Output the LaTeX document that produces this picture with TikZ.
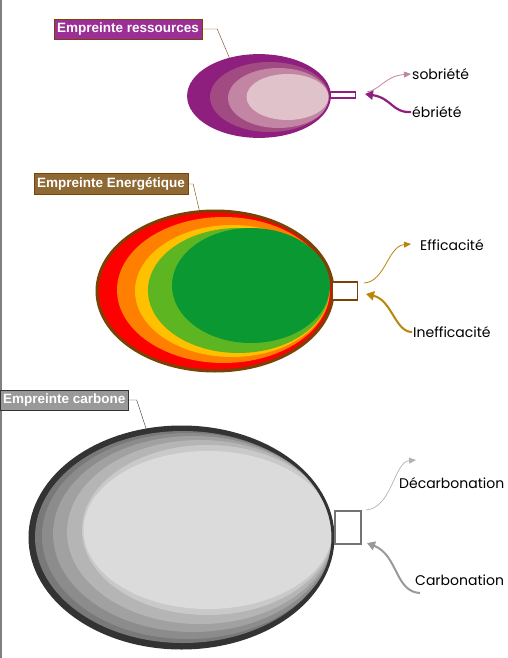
\documentclass[tikz,border=0pt]{standalone}
\usepackage{fontspec}
\setmainfont{Liberation Sans}
\newfontfamily\handfont{Poppins}
\usetikzlibrary{positioning,shapes,arrows.meta}
\definecolor{ressDark}{HTML}{8E1F7E}
\definecolor{ressMid}{HTML}{A24A82}
\definecolor{ressLight}{HTML}{C285A4}
\definecolor{ressPale}{HTML}{E0C2CB}
\definecolor{ressBox}{HTML}{9B2F96}
\definecolor{enerBrown}{HTML}{7A4204}
\definecolor{enerBox}{HTML}{8F6934}
\definecolor{enerRed}{HTML}{FF0000}
\definecolor{enerOrange}{HTML}{FF7F00}
\definecolor{enerYellow}{HTML}{FFC000}
\definecolor{enerLime}{HTML}{5DB522}
\definecolor{enerGreen}{HTML}{0A9832}
\definecolor{enerGold}{HTML}{B8860B}
\definecolor{carbDark}{HTML}{333333}
\definecolor{carbBox}{HTML}{999999}
\tikzset{
  tag/.style={draw=enerBrown, text=white, font=\bfseries\fontsize{13.5}{15}\selectfont,
    inner xsep=3pt, inner ysep=4pt, anchor=west},
  hand/.style={font=\handfont\fontsize{14}{16}\selectfont, text=black, anchor=west, inner sep=1pt},
  egg/.style={ellipse, inner sep=0pt},
  valve/.style={draw, fill=white, inner sep=0pt}
}
\begin{document}
\begin{tikzpicture}[x=1pt, y=-1pt]
\useasboundingbox (0,0) rectangle (508,658);
\draw[gray, line width=1.5pt] (1,0) -- (1,658);

\node[egg, fill=ressDark, minimum width=142pt, minimum height=82pt] (ressEgg) at (259,96) {};
\fill[ressMid] (269.5,97) ellipse [x radius=59.5pt, y radius=35pt];
\fill[ressLight] (278.5,98) ellipse [x radius=50.5pt, y radius=30pt];
\fill[ressPale] (287.5,97) ellipse [x radius=41pt, y radius=23pt];
\draw[ressDark, line width=1.8pt] (ressEgg.center) ellipse [x radius=71pt, y radius=41pt];
\node[valve, draw=ressDark, line width=1.5pt, minimum width=25pt, minimum height=6pt] (ressValve) at (343,95) {};
\node[tag, fill=ressBox] (ressLabel) at (54,29) {Empreinte ressources};
\draw[enerBrown] (ressLabel.east) -- ++(15,0) -- (ressEgg.128);
\node[hand] (sobriete) at (411,74) {sobriété};
\node[hand] (ebriete) at (411,112) {ébriété};
\coordinate (ressOut) at (367,92);
\coordinate (ressIn) at (365,94);
\draw[ressLight, line width=0.8pt, -{Triangle[length=7pt,width=6pt]}] (ressOut) .. controls (380,90) and (385,76) .. (sobriete.west);
\draw[ressDark, line width=2.2pt, -{Triangle[length=8pt,width=9pt]}] (ebriete.west) .. controls (392,113) and (392,98) .. (ressIn);

\node[egg, fill=enerRed, minimum width=236pt, minimum height=160pt] (enerEgg) at (215,291) {};
\fill[enerOrange] (223.5,290) ellipse [x radius=106.5pt, y radius=73pt];
\fill[enerYellow] (232,291) ellipse [x radius=97pt, y radius=66pt];
\fill[enerLime] (238.5,290.5) ellipse [x radius=90.5pt, y radius=62.5pt];
\fill[enerGreen] (251,285.5) ellipse [x radius=79pt, y radius=57.5pt];
\draw[enerBrown, line width=3pt] (enerEgg.center) ellipse [x radius=118pt, y radius=80pt];
\node[valve, draw=enerBrown, line width=1.5pt, minimum width=25pt, minimum height=18pt] (enerValve) at (345,291) {};
\node[tag, fill=enerBox] (enerLabel) at (34,184) {Empreinte Energétique};
\draw[enerBrown] (enerLabel.east) -- ++(5,0) -- (enerEgg.101);
\node[hand] (efficacite) at (419,245) {Efficacité};
\node[hand] (inefficacite) at (412,332) {Inefficacité};
\coordinate (enerOut) at (364,283);
\coordinate (enerIn) at (366,294);
\draw[enerGold, line width=0.8pt, -{Triangle[length=7pt,width=6pt]}] (enerOut) .. controls (385,282) and (388,246) .. (411,244);
\draw[enerGold, line width=2pt, -{Triangle[length=8pt,width=9pt]}] (inefficacite.west) .. controls (395,332) and (392,300) .. (enerIn);

\node[egg, fill=carbDark, minimum width=303pt, minimum height=221pt] (carbEgg) at (181.5,537.5) {};
\fill[gray!95!black] (183,537) ellipse [x radius=148pt, y radius=106pt];
\fill[black!45] (187.5,536) ellipse [x radius=145.5pt, y radius=103pt];
\fill[black!37] (193,534) ellipse [x radius=140pt, y radius=98pt];
\fill[black!29] (200,532) ellipse [x radius=133pt, y radius=92pt];
\fill[black!21] (207.5,530) ellipse [x radius=125.5pt, y radius=85pt];
\fill[black!14] (208,530) ellipse [x radius=124.5pt, y radius=79pt];
\draw[carbDark, line width=3pt] (carbEgg.center) ellipse [x radius=151.5pt, y radius=110.5pt];
\node[valve, draw=black!55, line width=2pt, minimum width=26pt, minimum height=33pt] (carbValve) at (348,527) {};
\node[tag, fill=carbBox, draw=carbDark] (carbLabel) at (0,400) {Empreinte carbone};
\draw[carbDark] (carbLabel.east) -- ++(8,0) -- (carbEgg.108);
\node[hand] (decarb) at (398,483) {Décarbonation};
\node[hand] (carb) at (414,580) {Carbonation};
\coordinate (carbOut) at (366,510);
\coordinate (carbIn) at (367,543);
\draw[black!30, line width=0.7pt, -{Triangle[length=7pt,width=6pt]}] (carbOut) .. controls (392,508) and (394,462) .. (416,460);
\draw[black!40, line width=2pt, -{Triangle[length=8pt,width=9pt]}] (420,593) .. controls (395,592) and (398,555) .. (carbIn);
\end{tikzpicture}
\end{document}
